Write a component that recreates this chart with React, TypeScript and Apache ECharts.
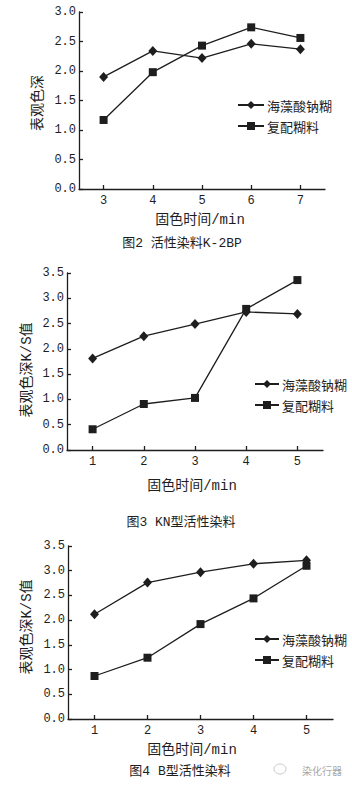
import React, { useEffect, useRef } from "react";
import * as echarts from "echarts";

const SERIES_A = "海藻酸钠糊";
const SERIES_B = "复配糊料";

const chart1Times = ["3", "4", "5", "6", "7"];
const chart1Alginate = [1.9, 2.34, 2.22, 2.46, 2.37];
const chart1Compound = [1.17, 1.98, 2.43, 2.74, 2.56];

const chart2Times = ["1", "2", "3", "4", "5"];
const chart2Alginate = [1.81, 2.25, 2.49, 2.73, 2.69];
const chart2Compound = [0.41, 0.91, 1.03, 2.79, 3.36];

const chart3Times = ["1", "2", "3", "4", "5"];
const chart3Alginate = [2.12, 2.76, 2.97, 3.14, 3.21];
const chart3Compound = [0.87, 1.24, 1.92, 2.44, 3.1];

const yNames = ["表观色深", "表观色深K/S值", "表观色深K/S值"];
const xName = "固色时间/min";
const captions = ["图2 活性染料K-2BP", "图3 KN型活性染料", "图4 B型活性染料"];
const yMaxes = [3.0, 3.5, 3.5];

const INK = "#1e1e1e";
const MONO = "'Liberation Mono', 'DejaVu Sans Mono', 'Noto Sans CJK SC', monospace";
const CJK = "'Noto Sans CJK SC', sans-serif";

export default function App() {
  const ref = useRef<HTMLDivElement>(null);

  useEffect(() => {
    if (!ref.current) return;
    const chart = echarts.init(ref.current, undefined, { renderer: "svg" });

    const grids = [
      { left: 79, top: 12, width: 246, height: 177 },
      { left: 67, top: 273, width: 256, height: 177 },
      { left: 68, top: 546, width: 265, height: 173 },
    ];
    const cats = [chart1Times, chart2Times, chart3Times];
    const alg = [chart1Alginate, chart2Alginate, chart3Alginate];
    const comp = [chart1Compound, chart2Compound, chart3Compound];

    const axisLine = { show: true, lineStyle: { color: INK, width: 1.3 } };
    const axisTick = { show: true, inside: true, length: 4, lineStyle: { color: INK, width: 1.3 } };

    const xAxis = cats.map((c, i) => ({
      type: "category",
      gridIndex: i,
      data: c,
      boundaryGap: true,
      axisLine,
      axisTick: { ...axisTick, alignWithLabel: true },
      axisLabel: { color: INK, fontFamily: MONO, fontSize: 12, margin: 6 },
      splitLine: { show: false },
    }));
    const yAxis = yMaxes.map((m, i) => ({
      type: "value",
      gridIndex: i,
      min: 0,
      max: m,
      interval: 0.5,
      axisLine,
      axisTick,
      axisLabel: {
        color: INK,
        fontFamily: MONO,
        fontSize: 12,
        margin: 3,
        formatter: (v: number) => v.toFixed(1),
      },
      splitLine: { show: false },
    }));

    const series: any[] = [];
    for (let i = 0; i < 3; i++) {
      series.push({
        type: "line",
        name: SERIES_A,
        xAxisIndex: i,
        yAxisIndex: i,
        data: alg[i],
        symbol: "diamond",
        symbolSize: [9, 10],
        lineStyle: { color: INK, width: 1.3 },
        itemStyle: { color: INK },
      });
      series.push({
        type: "line",
        name: SERIES_B,
        xAxisIndex: i,
        yAxisIndex: i,
        data: comp[i],
        symbol: "rect",
        symbolSize: 8,
        lineStyle: { color: INK, width: 1.3 },
        itemStyle: { color: INK },
      });
    }

    const legendPos = [
      { left: 237, top: 98, itemWidth: 26 },
      { left: 254, top: 377, itemWidth: 24 },
      { left: 254, top: 632, itemWidth: 24 },
    ];
    const legend = legendPos.map((p) => ({
      orient: "vertical",
      left: p.left,
      top: p.top,
      padding: 0,
      itemWidth: p.itemWidth,
      itemHeight: 10,
      itemGap: 7,
      selectedMode: false,
      data: [SERIES_A, SERIES_B],
      textStyle: { color: INK, fontFamily: CJK, fontSize: 13, lineHeight: 14, padding: [0, 0, 0, -2] },
    }));

    const yNamePos = [
      { x: 38, y: 103 },
      { x: 27, y: 370 },
      { x: 27, y: 627 },
    ];
    const xNamePos = [
      { x: 200, y: 220 },
      { x: 192, y: 486 },
      { x: 192, y: 750 },
    ];
    const capPos = [
      { x: 182, y: 243 },
      { x: 181, y: 522 },
      { x: 180, y: 771 },
    ];

    const graphic: any[] = [];
    for (let i = 0; i < 3; i++) {
      graphic.push({
        type: "text",
        x: yNamePos[i].x,
        y: yNamePos[i].y,
        rotation: Math.PI / 2,
        style: {
          text: yNames[i],
          fill: INK,
          font: `14px ${MONO}`,
          align: "center",
          verticalAlign: "middle",
        },
      });
      graphic.push({
        type: "text",
        x: xNamePos[i].x,
        y: xNamePos[i].y,
        style: {
          text: xName,
          fill: INK,
          font: `14px ${MONO}`,
          align: "center",
          verticalAlign: "middle",
        },
      });
      graphic.push({
        type: "text",
        x: capPos[i].x,
        y: capPos[i].y,
        style: {
          text: captions[i],
          fill: INK,
          font: `13px ${MONO}`,
          align: "center",
          verticalAlign: "middle",
        },
      });
    }
    graphic.push({
      type: "ellipse",
      shape: { cx: 280, cy: 769, rx: 6, ry: 5 },
      style: { fill: "none", stroke: "#c8c8c8", lineWidth: 1 },
    });
    graphic.push({
      type: "text",
      x: 322,
      y: 770,
      style: {
        text: "染化行器",
        fill: "#a8a8a8",
        font: `10px ${CJK}`,
        align: "center",
        verticalAlign: "middle",
      },
    });

    chart.setOption({
      animation: false,
      backgroundColor: "#ffffff",
      grid: grids,
      xAxis,
      yAxis,
      legend,
      series,
      graphic,
    });

    return () => chart.dispose();
  }, []);

  return (
    <div
      ref={ref}
      style={{ position: "absolute", left: 0, top: 0, width: 352, height: 785 }}
    />
  );
}
